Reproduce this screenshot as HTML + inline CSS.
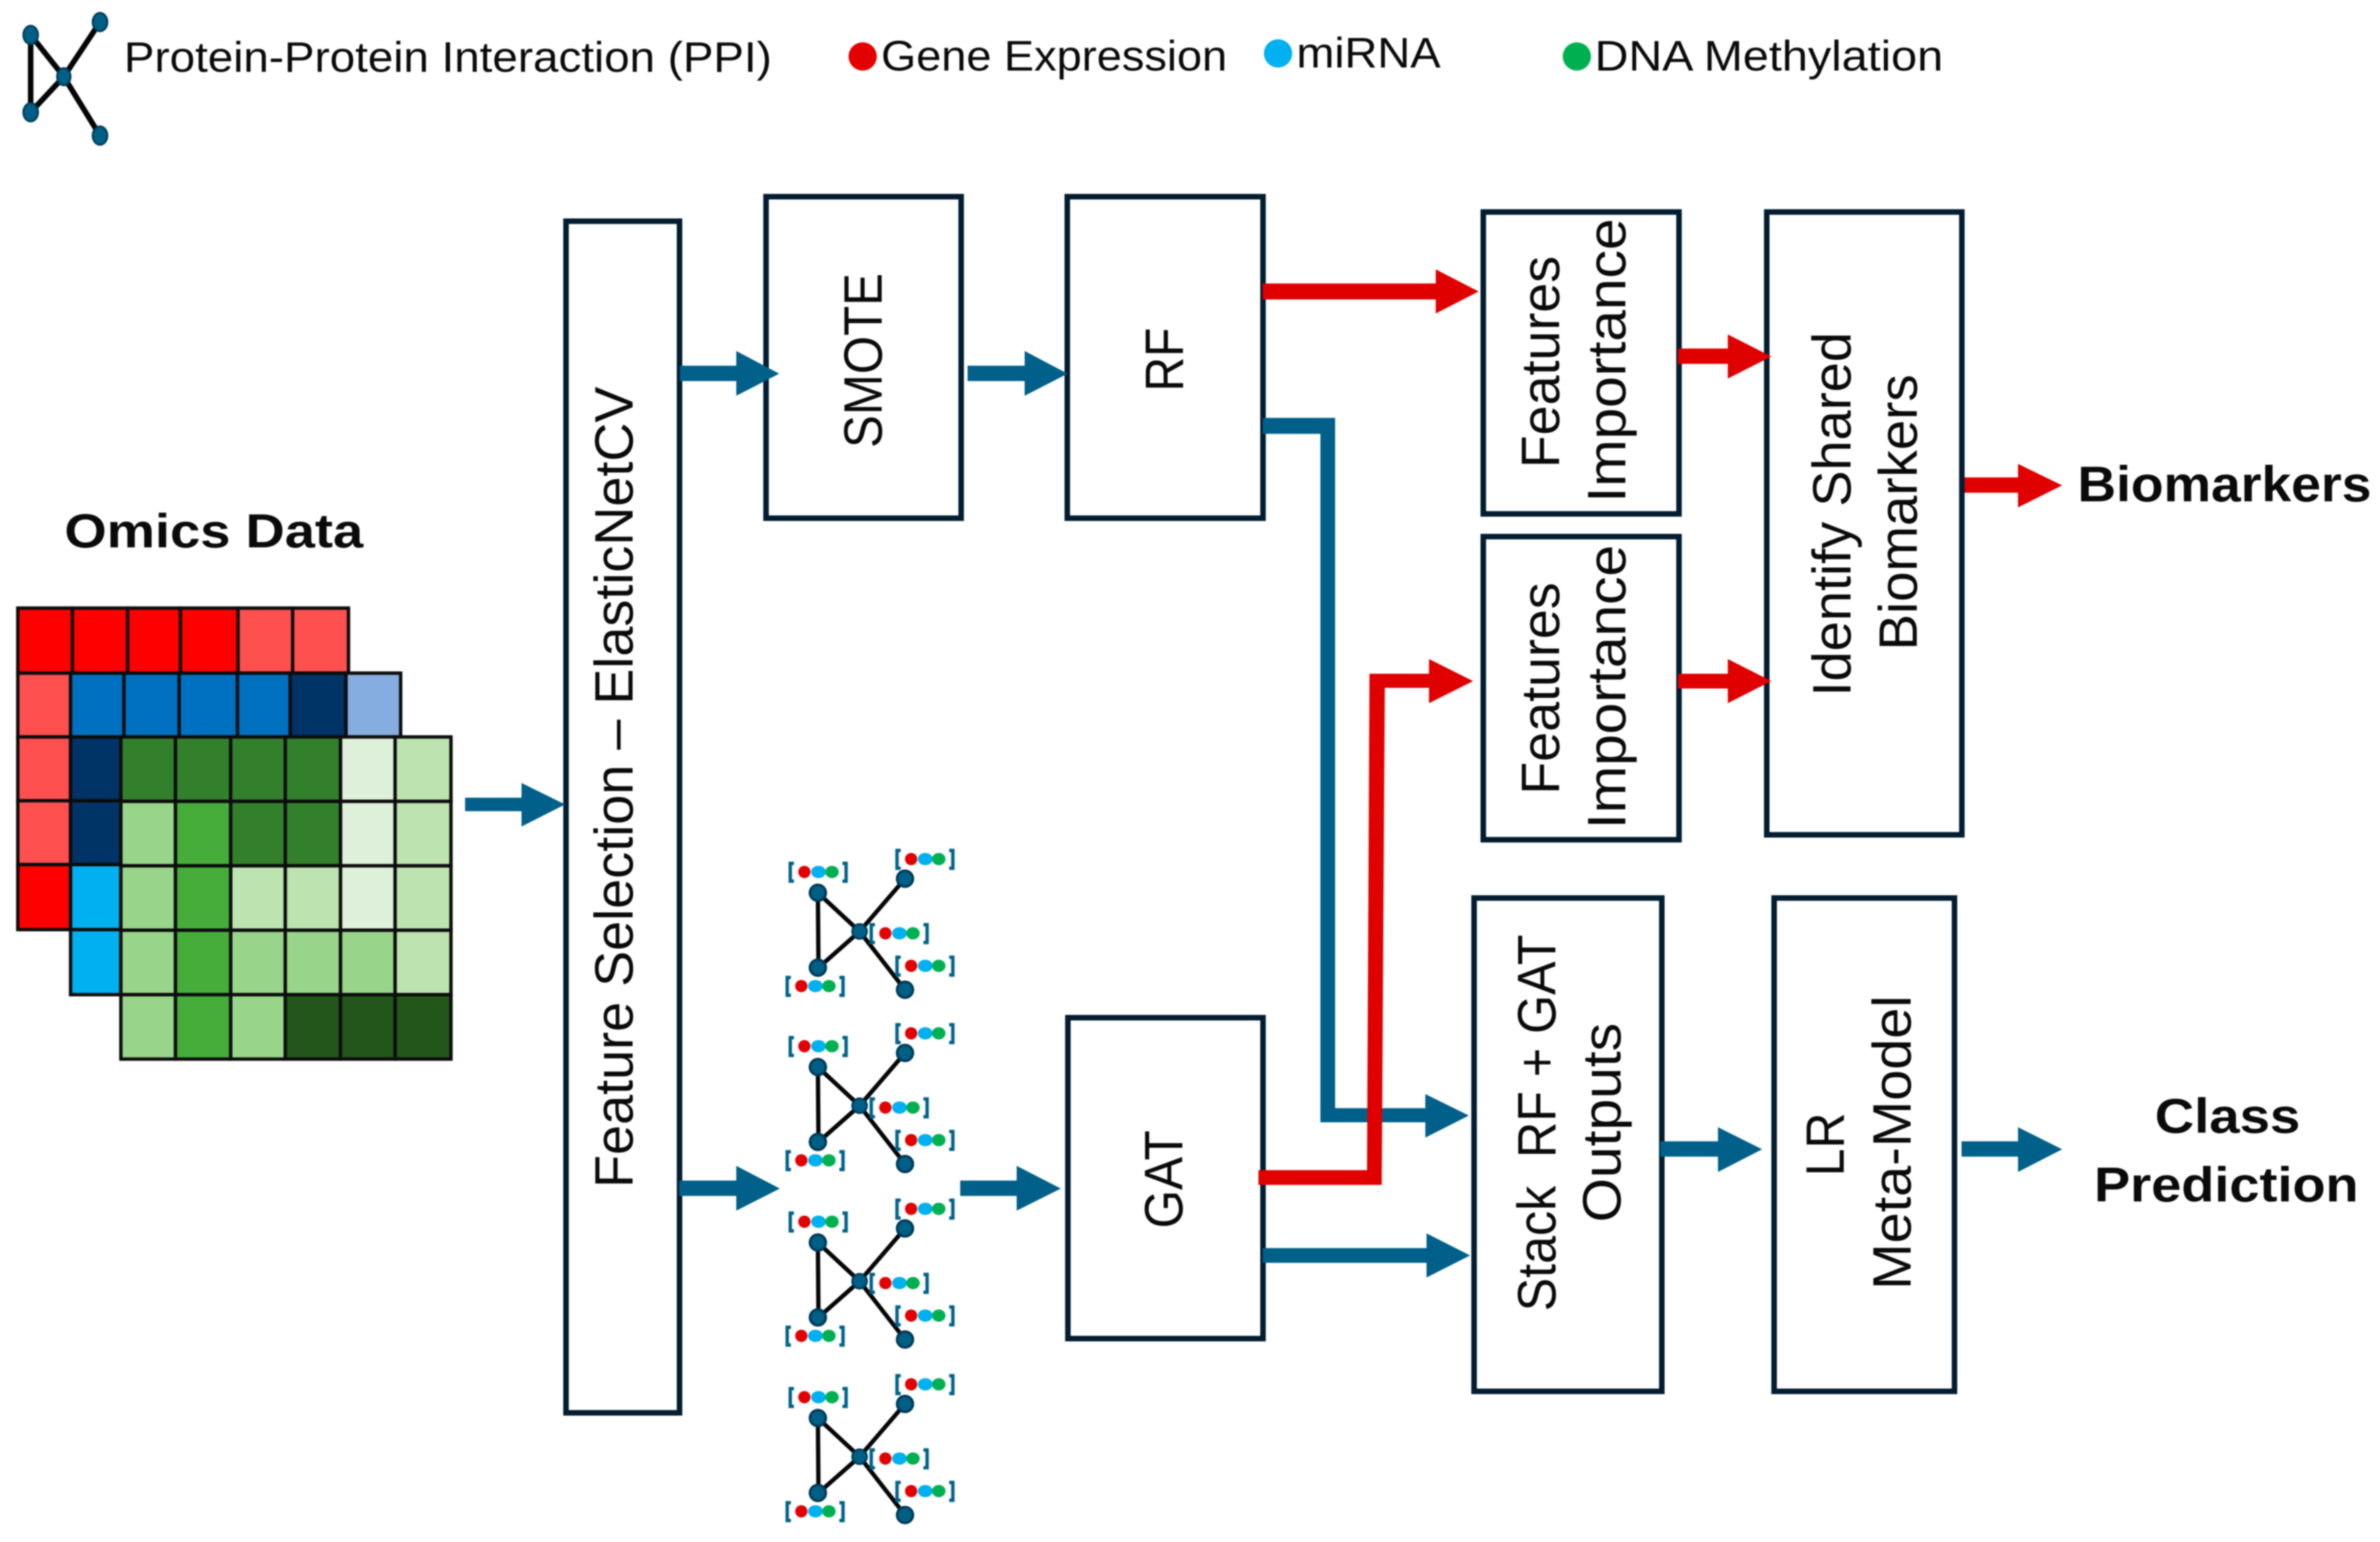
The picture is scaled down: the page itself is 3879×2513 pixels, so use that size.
<!DOCTYPE html>
<html><head><meta charset="utf-8"><style>
html,body{margin:0;padding:0;background:#fff}
svg{display:block;filter:blur(1.1px)}
text{font-family:"Liberation Sans",sans-serif;fill:#0a0a0a}
.b{font-weight:bold}
.box{fill:none;stroke:#031c30;stroke-width:9}
.ab{fill:#00608a}
.ar{fill:#e00000}
.c rect{stroke:#0c0c0c;stroke-width:5.5}
</style></head><body>
<svg xmlns="http://www.w3.org/2000/svg" width="3879" height="2513" viewBox="0 0 3879 2513">
<rect width="3879" height="2513" fill="#fff"/>
<defs>
<g id="lb">
<path d="M7,-14H1V15H7M86,-14H92V15H86" fill="none" stroke="#00628a" stroke-width="5.5"/>
<ellipse cx="24" cy="0" rx="10" ry="10" fill="#e30000"/>
<ellipse cx="47" cy="0" rx="12" ry="10" fill="#00b0f0"/>
<ellipse cx="69" cy="0" rx="11" ry="10" fill="#00b050"/>
</g>
<g id="gr">
<path d="M0,0L1,122L68,63ZM68,63L142,-23M68,63L142,158" fill="none" stroke="#050505" stroke-width="7"/>
<circle cx="0" cy="0" r="13" fill="#005f85" stroke="#003a58" stroke-width="4"/>
<circle cx="0" cy="122" r="13" fill="#005f85" stroke="#003a58" stroke-width="4"/>
<circle cx="68" cy="63" r="12" fill="#005f85" stroke="#003a58" stroke-width="3"/>
<circle cx="142" cy="-23" r="13" fill="#005f85" stroke="#003a58" stroke-width="4"/>
<circle cx="142" cy="158" r="13" fill="#005f85" stroke="#003a58" stroke-width="4"/>
<use href="#lb" x="-46" y="-34"/>
<use href="#lb" x="-51" y="152"/>
<use href="#lb" x="128" y="-55"/>
<use href="#lb" x="86" y="66"/>
<use href="#lb" x="128" y="119"/>
</g>
</defs>

<!-- legend -->
<path d="M50,57V183L104,125ZM104,125L163,36M104,125L163,221" fill="none" stroke="#050505" stroke-width="9"/>
<g fill="#005f85" stroke="#003a58" stroke-width="3">
<ellipse cx="50" cy="57" rx="12" ry="15"/><ellipse cx="50" cy="183" rx="12" ry="15"/>
<ellipse cx="104" cy="125" rx="11" ry="14"/><ellipse cx="163" cy="36" rx="12" ry="15"/><ellipse cx="163" cy="221" rx="12" ry="15"/>
</g>
<text x="202" y="117" font-size="70" textLength="1056" lengthAdjust="spacingAndGlyphs">Protein-Protein Interaction (PPI)</text>
<circle cx="1406" cy="92" r="23" fill="#e30000"/>
<text x="1436" y="115" font-size="70" textLength="564" lengthAdjust="spacingAndGlyphs">Gene Expression</text>
<circle cx="2083" cy="87" r="23" fill="#00b0f0"/>
<text x="2113" y="110" font-size="70" textLength="235" lengthAdjust="spacingAndGlyphs">miRNA</text>
<circle cx="2570" cy="92" r="23" fill="#00b050"/>
<text x="2599" y="115" font-size="70" textLength="568" lengthAdjust="spacingAndGlyphs">DNA Methylation</text>

<!-- omics -->
<text class="b" x="105" y="892" font-size="78" textLength="487" lengthAdjust="spacingAndGlyphs">Omics Data</text>
<g class="c">
<rect x="29" y="991" width="89" height="106" fill="#ff0000"/>
<rect x="118" y="991" width="90" height="106" fill="#ff0000"/>
<rect x="208" y="991" width="86" height="106" fill="#ff0000"/>
<rect x="294" y="991" width="94" height="106" fill="#ff0000"/>
<rect x="388" y="991" width="89" height="106" fill="#ff5050"/>
<rect x="477" y="991" width="91" height="106" fill="#ff5050"/>
<rect x="29" y="1097" width="86" height="104" fill="#ff5050"/>
<rect x="29" y="1201" width="86" height="104" fill="#ff5050"/>
<rect x="29" y="1305" width="86" height="104" fill="#ff5050"/>
<rect x="29" y="1409" width="86" height="106" fill="#ff0000"/>

<rect x="115" y="1097" width="87" height="104" fill="#0070c0"/>
<rect x="202" y="1097" width="90" height="104" fill="#0070c0"/>
<rect x="292" y="1097" width="95" height="104" fill="#0070c0"/>
<rect x="387" y="1097" width="86" height="104" fill="#0070c0"/>
<rect x="473" y="1097" width="91" height="104" fill="#003366"/>
<rect x="564" y="1097" width="89" height="104" fill="#85addf"/>
<rect x="115" y="1201" width="82" height="104" fill="#003366"/>
<rect x="115" y="1305" width="82" height="104" fill="#003366"/>
<rect x="115" y="1409" width="82" height="106" fill="#00b0f0"/>
<rect x="115" y="1515" width="82" height="106" fill="#00b0f0"/>

<rect x="197" y="1201" width="89" height="105" fill="#33802c"/>
<rect x="286" y="1201" width="90" height="105" fill="#33802c"/>
<rect x="376" y="1201" width="89" height="105" fill="#33802c"/>
<rect x="465" y="1201" width="90" height="105" fill="#33802c"/>
<rect x="555" y="1201" width="89" height="105" fill="#dff0da"/>
<rect x="644" y="1201" width="91" height="105" fill="#bce3b0"/>

<rect x="197" y="1306" width="89" height="105" fill="#98d48a"/>
<rect x="286" y="1306" width="90" height="105" fill="#46ad3b"/>
<rect x="376" y="1306" width="89" height="105" fill="#33802c"/>
<rect x="465" y="1306" width="90" height="105" fill="#33802c"/>
<rect x="555" y="1306" width="89" height="105" fill="#dff0da"/>
<rect x="644" y="1306" width="91" height="105" fill="#bce3b0"/>

<rect x="197" y="1411" width="89" height="105" fill="#98d48a"/>
<rect x="286" y="1411" width="90" height="105" fill="#46ad3b"/>
<rect x="376" y="1411" width="89" height="105" fill="#bce3b0"/>
<rect x="465" y="1411" width="90" height="105" fill="#bce3b0"/>
<rect x="555" y="1411" width="89" height="105" fill="#dff0da"/>
<rect x="644" y="1411" width="91" height="105" fill="#bce3b0"/>

<rect x="197" y="1516" width="89" height="105" fill="#98d48a"/>
<rect x="286" y="1516" width="90" height="105" fill="#46ad3b"/>
<rect x="376" y="1516" width="89" height="105" fill="#98d48a"/>
<rect x="465" y="1516" width="90" height="105" fill="#98d48a"/>
<rect x="555" y="1516" width="89" height="105" fill="#98d48a"/>
<rect x="644" y="1516" width="91" height="105" fill="#bce3b0"/>

<rect x="197" y="1621" width="89" height="105" fill="#98d48a"/>
<rect x="286" y="1621" width="90" height="105" fill="#46ad3b"/>
<rect x="376" y="1621" width="89" height="105" fill="#98d48a"/>
<rect x="465" y="1621" width="90" height="105" fill="#22561b"/>
<rect x="555" y="1621" width="89" height="105" fill="#22561b"/>
<rect x="644" y="1621" width="91" height="105" fill="#22561b"/>
</g>

<!-- boxes -->
<rect class="box" x="922.5" y="360.5" width="185" height="1942"/>
<rect class="box" x="1248.5" y="320.5" width="318" height="524"/>
<rect class="box" x="1739.5" y="320.5" width="319" height="524"/>
<rect class="box" x="1740.5" y="1658.5" width="318" height="523"/>
<rect class="box" x="2417.5" y="345.5" width="319" height="492"/>
<rect class="box" x="2417.5" y="874.5" width="319" height="494"/>
<rect class="box" x="2879.5" y="345.5" width="318" height="1015"/>
<rect class="box" x="2402.5" y="1463.5" width="306" height="804"/>
<rect class="box" x="2891.5" y="1463.5" width="294" height="804"/>

<!-- rotated labels -->
<text transform="translate(1031,1936) rotate(-90)" font-size="88" textLength="1306" lengthAdjust="spacingAndGlyphs">Feature Selection – ElasticNetCV</text>
<text transform="translate(1437,730) rotate(-90)" font-size="88" textLength="285" lengthAdjust="spacingAndGlyphs">SMOTE</text>
<text transform="translate(1928,638) rotate(-90)" font-size="88" textLength="104" lengthAdjust="spacingAndGlyphs">RF</text>
<text transform="translate(1927,2002) rotate(-90)" font-size="88" textLength="160" lengthAdjust="spacingAndGlyphs">GAT</text>
<text transform="translate(2541,763) rotate(-90)" font-size="88" textLength="346" lengthAdjust="spacingAndGlyphs">Features</text>
<text transform="translate(2649,819) rotate(-90)" font-size="88" textLength="463" lengthAdjust="spacingAndGlyphs">Importance</text>
<text transform="translate(2541,1295) rotate(-90)" font-size="88" textLength="346" lengthAdjust="spacingAndGlyphs">Features</text>
<text transform="translate(2649,1351) rotate(-90)" font-size="88" textLength="463" lengthAdjust="spacingAndGlyphs">Importance</text>
<text transform="translate(3016,1135) rotate(-90)" font-size="88" textLength="594" lengthAdjust="spacingAndGlyphs">Identify Shared</text>
<text transform="translate(3124,1060) rotate(-90)" font-size="88" textLength="450" lengthAdjust="spacingAndGlyphs">Biomarkers</text>
<text transform="translate(2535,2137) rotate(-90)" font-size="88" textLength="614" lengthAdjust="spacingAndGlyphs" xml:space="preserve">Stack  RF + GAT</text>
<text transform="translate(2641,1992) rotate(-90)" font-size="88" textLength="325" lengthAdjust="spacingAndGlyphs">Outputs</text>
<text transform="translate(3005,1917) rotate(-90)" font-size="88" textLength="104" lengthAdjust="spacingAndGlyphs">LR</text>
<text transform="translate(3114,2102) rotate(-90)" font-size="88" textLength="480" lengthAdjust="spacingAndGlyphs">Meta-Model</text>

<!-- bold outputs -->
<text class="b" x="3386" y="817" font-size="82" textLength="479" lengthAdjust="spacingAndGlyphs">Biomarkers</text>
<text class="b" x="3512" y="1846" font-size="80" textLength="237" lengthAdjust="spacingAndGlyphs">Class</text>
<text class="b" x="3413" y="1958" font-size="80" textLength="431" lengthAdjust="spacingAndGlyphs">Prediction</text>

<!-- graphs -->
<use href="#gr" x="1333" y="1455"/>
<use href="#gr" x="1333" y="1739"/>
<use href="#gr" x="1333" y="2025"/>
<use href="#gr" x="1333" y="2311"/>

<!-- blue arrows -->
<polygon class="ab" points="758,1300 850,1300 850,1276 921,1311 850,1347 850,1322 758,1322"/>
<polygon class="ab" points="1108,596 1200,596 1200,572 1270,609 1200,645 1200,621 1108,621"/>
<polygon class="ab" points="1577,596 1670,596 1670,572 1740,609 1670,645 1670,621 1577,621"/>
<polygon class="ab" points="1107,1924 1200,1924 1200,1900 1271,1937 1200,1973 1200,1949 1107,1949"/>
<polygon class="ab" points="1565,1924 1657,1924 1657,1900 1729,1937 1657,1973 1657,1949 1565,1949"/>
<polygon class="ab" points="2058,681 2176,681 2176,1806 2323,1806 2323,1783 2394,1818 2323,1854 2323,1829 2152,1829 2152,707 2058,707"/>
<polygon class="ab" points="2058,2034 2325,2034 2325,2010 2396,2046 2325,2082 2325,2058 2058,2058"/>
<polygon class="ab" points="2706,1860 2800,1860 2800,1837 2872,1873 2800,1910 2800,1885 2706,1885"/>
<polygon class="ab" points="3197,1860 3289,1860 3289,1837 3361,1873 3289,1910 3289,1885 3197,1885"/>

<!-- red arrows -->
<polygon class="ar" points="2058,462 2340,462 2340,439 2410,475 2340,511 2340,488 2058,488"/>
<polygon class="ar" points="2051,1907 2228,1907 2232,1098 2329,1098 2329,1074 2401,1110 2329,1146 2329,1121 2257,1121 2252,1931 2051,1931"/>
<polygon class="ar" points="2735,568 2816,568 2816,545 2887,581 2816,617 2816,593 2735,593"/>
<polygon class="ar" points="2735,1098 2816,1098 2816,1074 2887,1110 2816,1146 2816,1122 2735,1122"/>
<polygon class="ar" points="3202,778 3289,778 3289,756 3361,791 3289,827 3289,803 3202,803"/>
</svg>
</body></html>
